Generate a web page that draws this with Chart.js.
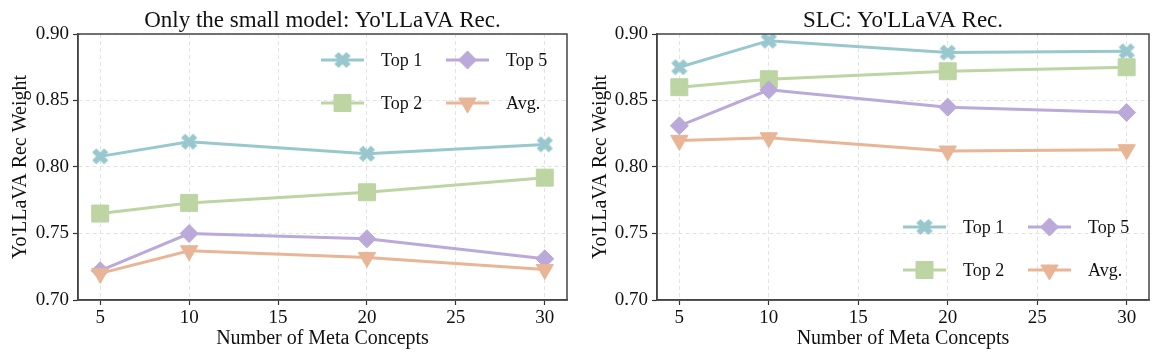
<!DOCTYPE html>
<html>
<head>
<meta charset="utf-8">
<script src="https://cdn.jsdelivr.net/npm/chart.js@4.4.0/dist/chart.umd.min.js"></script>
<style>
  body { margin: 0; background: #fff; }
  .pane { position: absolute; top: 0; }
</style>
</head>
<body>
<div class="pane" style="left:0"><canvas id="leftChart" width="580" height="361"></canvas></div>
<div class="pane" style="left:580px"><canvas id="rightChart" width="582" height="361"></canvas></div>
<script>
// meta concept counts on the x axis
var metaConcepts = [5, 10, 20, 30];
var xTicks = [5, 10, 15, 20, 25, 30];
var yTicks = [0.70, 0.75, 0.80, 0.85, 0.90];
var seriesNames = ['Top 1', 'Top 2', 'Top 5', 'Avg.'];

// left panel: only the small model
var smallTop1 = [0.808, 0.819, 0.810, 0.817];
var smallTop2 = [0.765, 0.773, 0.781, 0.792];
var smallTop5 = [0.722, 0.750, 0.746, 0.731];
var smallAvg  = [0.720, 0.737, 0.732, 0.723];

// right panel: SLC
var slcTop1 = [0.875, 0.895, 0.886, 0.887];
var slcTop2 = [0.860, 0.866, 0.872, 0.875];
var slcTop5 = [0.831, 0.858, 0.845, 0.841];
var slcAvg  = [0.820, 0.822, 0.812, 0.813];

var colores = ['#98c8ce', '#bcd5a3', '#bba9d9', '#e8b596'];
var FONT = '"Liberation Serif", "Times New Roman", serif';

// thick filled X marker like matplotlib 'X'
function makeX(color){
  var c = document.createElement('canvas');
  c.width = 18; c.height = 18;
  var g = c.getContext('2d');
  g.strokeStyle = color;
  g.lineWidth = 6;
  g.lineCap = 'butt';
  g.beginPath();
  g.moveTo(3, 3); g.lineTo(15, 15);
  g.moveTo(15, 3); g.lineTo(3, 15);
  g.stroke();
  return c;
}
var xMark = makeX(colores[0]);

var marks = [
  {pointStyle: xMark, radius: 9, rotation: 0},
  {pointStyle: 'rect', radius: 12, rotation: 0},
  {pointStyle: 'rectRot', radius: 9, rotation: 0},
  {pointStyle: 'triangle', radius: 10, rotation: 180}
];

function puntos(vals){
  return vals.map(function(v, i){ return {x: metaConcepts[i], y: v}; });
}

function buildSets(series){
  return series.map(function(vals, i){
    return {
      label: seriesNames[i],
      data: puntos(vals),
      borderColor: colores[i],
      backgroundColor: colores[i],
      borderWidth: 3,
      pointStyle: marks[i].pointStyle,
      pointRadius: marks[i].radius,
      pointHoverRadius: marks[i].radius,
      pointRotation: marks[i].rotation,
      pointBorderWidth: 1,
      pointBorderColor: colores[i],
      order: 4 - i,
      tension: 0
    };
  });
}

// title over the plot, frame on all four sides, legend inside the plot
var framePlugin = {
  id: 'frameLegend',
  afterDatasetsDraw: function(chart, args, opts){
    var ctx = chart.ctx, a = chart.chartArea;
    ctx.save();
    ctx.strokeStyle = '#444';
    ctx.lineWidth = 1.5;
    ctx.strokeRect(a.left, a.top, a.right - a.left, a.bottom - a.top);

    ctx.fillStyle = '#111';
    ctx.font = '23px ' + FONT;
    ctx.textAlign = 'center';
    ctx.textBaseline = 'alphabetic';
    ctx.fillText(opts.titulo, (a.left + a.right) / 2, a.top - 7);

    var rows = opts.anchor === 'top' ? [a.top + 26, a.top + 69] : [a.bottom - 73, a.bottom - 30];
    var cols = [a.right - 246, a.right - 121];
    var items = [[0, 0, 0], [1, 0, 1], [2, 1, 0], [3, 1, 1]];
    ctx.font = '18px ' + FONT;
    ctx.textBaseline = 'middle';
    ctx.textAlign = 'left';
    items.forEach(function(it){
      var i = it[0], x0 = cols[it[1]], y0 = rows[it[2]];
      ctx.strokeStyle = colores[i];
      ctx.lineWidth = 3;
      ctx.beginPath();
      ctx.moveTo(x0, y0); ctx.lineTo(x0 + 43, y0);
      ctx.stroke();
      ctx.fillStyle = colores[i];
      ctx.strokeStyle = colores[i];
      ctx.lineWidth = 1;
      Chart.helpers.drawPoint(ctx, {
        pointStyle: marks[i].pointStyle,
        radius: marks[i].radius,
        rotation: marks[i].rotation,
        borderWidth: 1
      }, x0 + 21.5, y0);
      ctx.fillStyle = '#111';
      ctx.fillText(seriesNames[i], x0 + 60, y0 + 1);
    });
    ctx.restore();
  }
};

function graph(canvasId, titulo, series, anchor, yWidth){
  var ctx = document.getElementById(canvasId).getContext('2d');
  return new Chart(ctx, {
    type: 'line',
    data: { datasets: buildSets(series) },
    plugins: [framePlugin],
    options: {
      responsive: false,
      animation: false,
      events: [],
      layout: { padding: { left: 0, right: anchor === 'top' ? 7 : 10, top: 34, bottom: 0 } },
      plugins: {
        legend: { display: false },
        tooltip: { enabled: false },
        title: { display: false },
        frameLegend: { anchor: anchor, titulo: titulo }
      },
      scales: {
        x: {
          type: 'linear',
          min: 3.75,
          max: 31.25,
          afterBuildTicks: function(s){ s.ticks = xTicks.map(function(v){ return {value: v}; }); },
          afterFit: function(s){ s.height = 61; },
          ticks: {
            color: '#111',
            font: { family: FONT, size: 19 },
            padding: 2,
            maxRotation: 0,
            callback: function(v){ return String(v); }
          },
          grid: {
            color: '#e3e3e3',
            lineWidth: 1,
            tickLength: 5,
            tickColor: '#333',
            tickWidth: 1.2
          },
          border: { color: '#444', width: 1.5, dash: [4, 3] },
          title: {
            display: true,
            text: 'Number of Meta Concepts',
            color: '#111',
            font: { family: FONT, size: 20 },
            padding: { top: 0, bottom: 10 }
          }
        },
        y: {
          min: 0.70,
          max: 0.90,
          afterBuildTicks: function(s){ s.ticks = yTicks.map(function(v){ return {value: v}; }); },
          afterFit: function(s){ s.width = yWidth; },
          ticks: {
            color: '#111',
            font: { family: FONT, size: 19 },
            padding: 4,
            callback: function(v){ return v.toFixed(2); }
          },
          grid: {
            color: '#e3e3e3',
            lineWidth: 1,
            tickLength: 5,
            tickColor: '#333',
            tickWidth: 1.2
          },
          border: { color: '#444', width: 1.5, dash: [4, 3] },
          title: {
            display: true,
            text: "Yo'LLaVA Rec Weight",
            color: '#111',
            font: { family: FONT, size: 20 },
            padding: { top: 9, bottom: 0 }
          }
        }
      }
    }
  });
}

graph('leftChart', "Only the small model: Yo'LLaVA Rec.", [smallTop1, smallTop2, smallTop5, smallAvg], 'top', 78);
graph('rightChart', "SLC: Yo'LLaVA Rec.", [slcTop1, slcTop2, slcTop5, slcAvg], 'bottom', 77);
</script>
</body>
</html>
